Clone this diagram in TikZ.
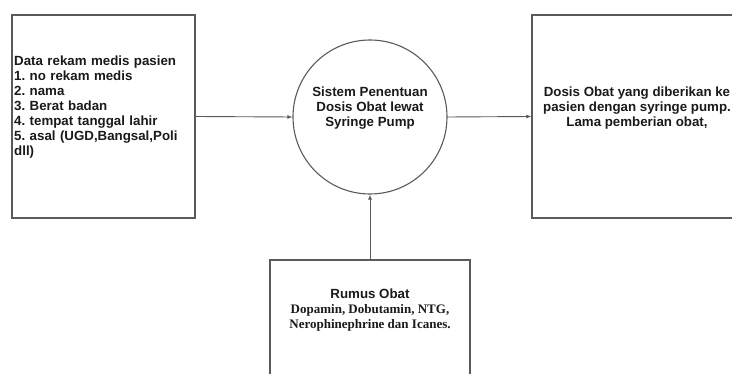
\documentclass[tikz,border=0pt]{standalone}
\usepackage{fontspec}
\setmainfont{Liberation Sans}
\newfontfamily\serifb{Liberation Serif}
\usetikzlibrary{arrows.meta}
\definecolor{edge}{HTML}{5A5A5A}
\definecolor{ink}{HTML}{1A1A1A}
\frenchspacing
\begin{document}
\begin{tikzpicture}[x=1pt,y=-1pt,
  boxstyle/.style={draw=edge,line width=1.1pt,fill=white,inner sep=0pt},
  txt/.style={text=ink,font=\frenchspacing\bfseries\fontsize{13.3}{15}\selectfont,inner sep=0pt},
  flow/.style={draw=edge,line width=0.9pt,-{Latex[length=5pt,width=4pt]}}]
\useasboundingbox[fill=white] (0,0) rectangle (732,374);
% left box
\node[boxstyle,minimum width=183pt,minimum height=203pt] (lb) at (103.5,116.5) {};
\node[txt,anchor=north west,text width=180pt,align=left] (lt) at (14,55.5)
  {Data rekam medis pasien\\1. no rekam medis\\2. nama\\3. Berat badan\\4. tempat tanggal lahir\\5. asal (UGD,Bangsal,Poli\\dll)};
% circle
\node[draw=edge,line width=1.1pt,circle,minimum size=154pt,inner sep=0pt] (c) at (370,117) {};
\node[txt,align=center] (ct) at (370,108.5) {Sistem Penentuan\\Dosis Obat lewat\\Syringe Pump};
% right box
\node[boxstyle,minimum width=213pt,minimum height=203pt] (rb) at (638.5,116.5) {};
\node[txt,align=center] (rt) at (637,108) {Dosis Obat yang diberikan ke\\pasien dengan syringe pump.\\Lama pemberian obat,};
% bottom box
\node[boxstyle,minimum width=200pt,minimum height=140pt] (bb) at (370,330) {};
\node[txt,align=center] (bt) at (370,310.5)
  {Rumus Obat\\{\serifb\bfseries\fontsize{13}{15}\selectfont Dopamin, Dobutamin, NTG,}\\{\serifb\bfseries\fontsize{13}{15}\selectfont Nerophinephrine dan Icanes.}};
% connectors
\draw[flow] (lb.east) -- (c.west);
\draw[flow] (c.east) -- (rb.west);
\draw[flow] (bb.north) -- (c.south);
\end{tikzpicture}
\end{document}
